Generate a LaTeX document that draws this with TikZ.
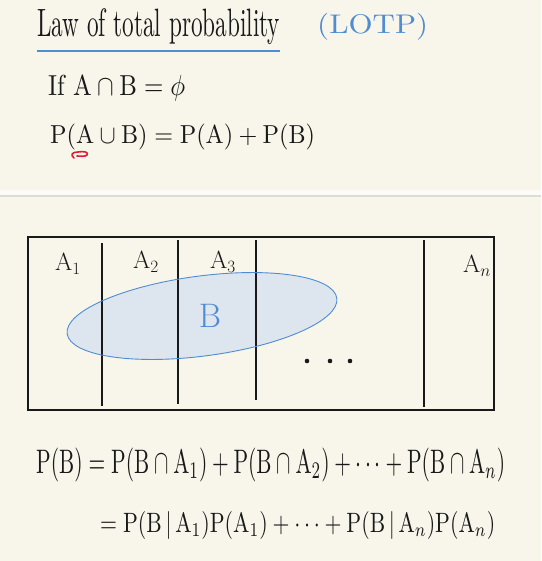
\documentclass[tikz,border=0pt]{standalone}
\usepackage{graphicx}
\usepackage{amsmath,amssymb}
\definecolor{paper}{RGB}{248,245,235}
\definecolor{penblue}{RGB}{80,140,210}
\definecolor{fillblue}{RGB}{221,230,238}
\definecolor{ink}{RGB}{25,25,25}
\definecolor{divgray}{RGB}{222,220,214}
\definecolor{penred}{RGB}{225,30,50}
\tikzset{
  txt/.style={anchor=west, inner sep=0pt, text=ink},
  bluetxt/.style={anchor=west, inner sep=0pt, text=penblue},
  lbl/.style={inner sep=0pt, text=ink, font=\fontsize{27}{30}\selectfont},
  part/.style={draw=ink, line width=1.3pt},
}
\newcommand{\PP}{\mathrm{P}}
\begin{document}
\begin{tikzpicture}[x=1pt,y=-1pt]
\fill[paper] (0,0) rectangle (541,561);
\useasboundingbox (0,0) rectangle (541,561);
% divider
\fill[white!60!paper] (0,190) rectangle (541,195);
\fill[divgray] (0,195) rectangle (541,197.5);
% title
\node[txt] (title) at (37,27) {\resizebox*{243pt}{36pt}{Law of total probability}};
\draw[penblue, line width=1.2pt] (37,51) -- (280,51);
\node[bluetxt] (lotp) at (317,27) {\resizebox*{111pt}{27pt}{(LOTP)}};
\node[txt] (ifl) at (48,88) {\resizebox*{137pt}{26pt}{If $\mathrm{A}\cap\mathrm{B}=\phi$}};
\node[txt] (sum) at (50,137) {\resizebox*{265pt}{26pt}{$\PP(\mathrm{A}\cup\mathrm{B})=\PP(\mathrm{A})+\PP(\mathrm{B})$}};
% red pen mark
\draw[penred, line width=1.6pt, line join=round, line cap=round]
  (74,158) .. controls (70,155) and (72,152) .. (78,152)
  .. controls (84,151) and (89,152) .. (87,155)
  .. controls (85,157) and (80,156) .. (77,156);
% partition box
\draw[part] (28,237) rectangle (494,410);
\coordinate (v1t) at (102,243); \coordinate (v1b) at (102,406);
\coordinate (v2t) at (178,240); \coordinate (v2b) at (178,404);
\coordinate (v3t) at (256,240); \coordinate (v3b) at (256,400);
\coordinate (v4t) at (424,240); \coordinate (v4b) at (424,407);
\fill[fillblue, rotate around={7.5:(202,316)}] (202,316) ellipse [x radius=136, y radius=40];
\draw[part] (v1t) -- (v1b);
\draw[part] (v2t) -- (v2b);
\draw[part] (v3t) -- (v3b);
\draw[part] (v4t) -- (v4b);
\draw[penblue, line width=0.9pt, rotate around={7.5:(202,316)}] (202,316) ellipse [x radius=136, y radius=40];
\node[lbl] (a1) at (68,264) {$\mathrm{A}_1$};
\node[lbl] (a2) at (146,262) {$\mathrm{A}_2$};
\node[lbl] (a3) at (223,262) {$\mathrm{A}_3$};
\node[lbl] (an) at (477,266) {$\mathrm{A}_n$};
\node[inner sep=0pt, text=penblue, font=\fontsize{34}{36}\selectfont] (b) at (210,316) {B};
\foreach \xx in {307,330,350} \fill[ink] (\xx,361) circle (2.3);
% equations
\node[txt] (eq1) at (36,465) {\resizebox*{469pt}{34pt}{$\PP(\mathrm{B})=\PP(\mathrm{B}\cap\mathrm{A}_1)+\PP(\mathrm{B}\cap\mathrm{A}_2)+\cdots+\PP(\mathrm{B}\cap\mathrm{A}_n)$}};
\node[txt] (eq2) at (100,525) {\resizebox*{395pt}{28pt}{$=\PP(\mathrm{B}\,|\,\mathrm{A}_1)\PP(\mathrm{A}_1)+\cdots+\PP(\mathrm{B}\,|\,\mathrm{A}_n)\PP(\mathrm{A}_n)$}};
\end{tikzpicture}
\end{document}
